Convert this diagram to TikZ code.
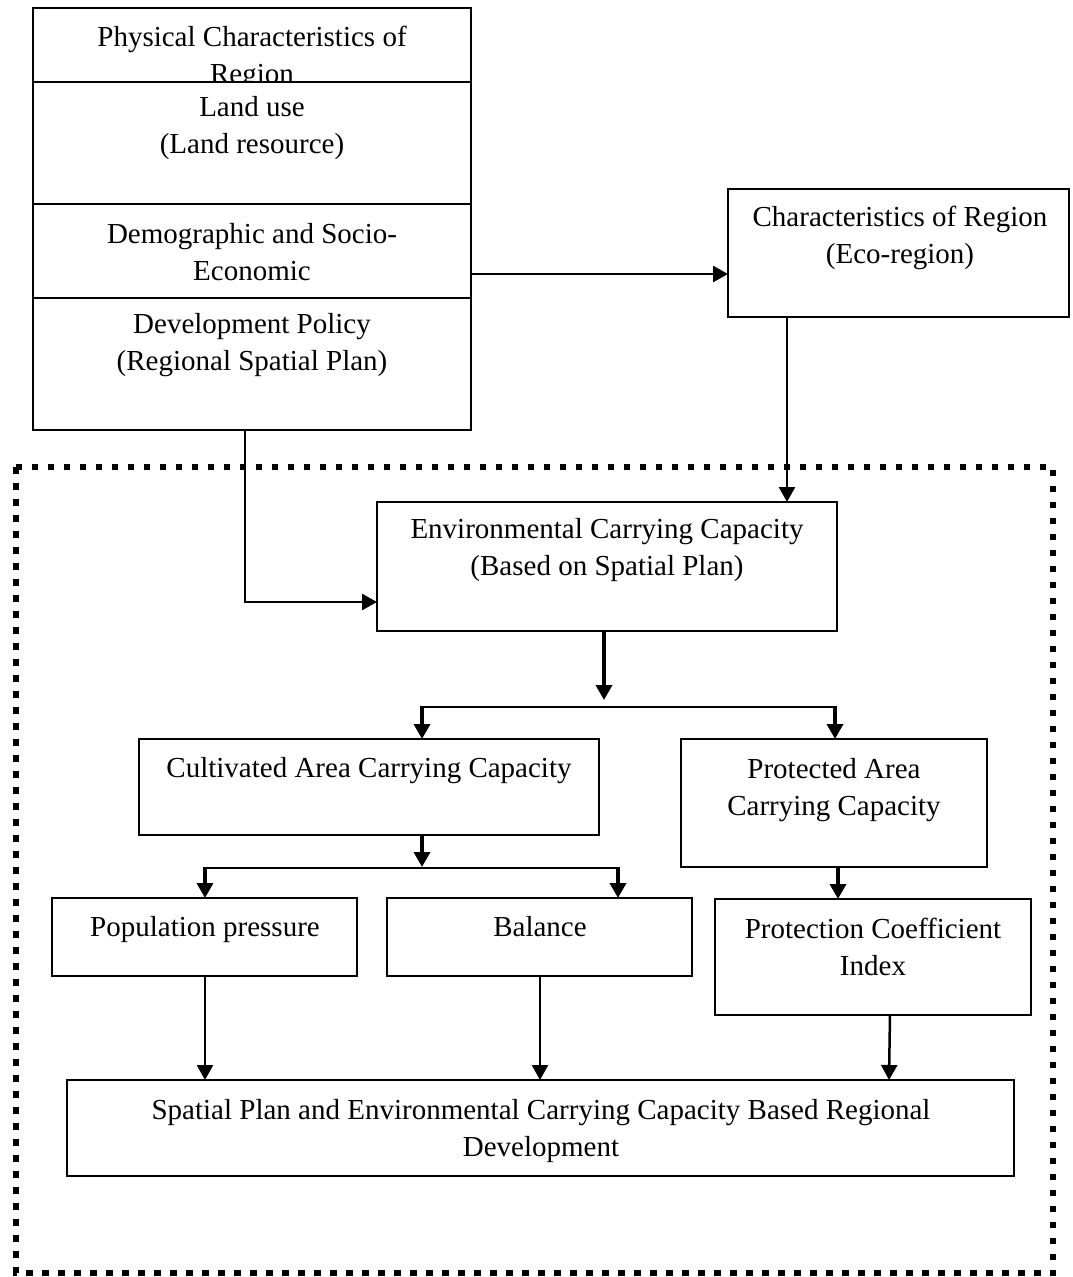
\documentclass[tikz,border=0pt]{standalone}
\usepackage{fontspec}
\setmainfont{Liberation Serif}
\usetikzlibrary{arrows.meta,calc}
\begin{document}
\begin{tikzpicture}[x=1pt,y=-1pt,
  box/.style={draw,line width=2pt,fill=white,anchor=north west,inner sep=0pt,outer sep=0pt},
  lbl/.style={anchor=base,align=center,inner sep=0pt,font=\fontsize{29}{37}\selectfont},
  arr/.style={line width=2.5pt,-{Triangle[length=15pt,width=16pt]}},
  arrthick/.style={line width=3.5pt,-{Triangle[length=15pt,width=16pt]}},
  bus/.style={line width=1.8pt},
  frame/.style={line width=6.5pt,dash pattern=on 6.5pt off 9.5pt}]
\useasboundingbox (0,0) rectangle (1072,1277);

% dotted frame
\draw[frame] (16,467) rectangle (1053,1273);

% top-left stack (anchor=base of a two-line label = baseline of its last line)
\node[box,minimum width=438pt,minimum height=74pt] (phys) at (33,8) {};
\node[lbl] (physT) at (252,83) {Physical Characteristics of\\Region};
\node[box,minimum width=438pt,minimum height=122pt] (land) at (33,82) {};
\node[lbl] (landT) at (252,153) {Land use\\(Land resource)};
\node[box,minimum width=438pt,minimum height=94pt] (demo) at (33,204) {};
\node[lbl] (demoT) at (252,280) {Demographic and Socio-\\Economic};
\node[box,minimum width=438pt,minimum height=132pt] (dev) at (33,298) {};
\node[lbl] (devT) at (252,370) {Development Policy\\(Regional Spatial Plan)};

% characteristics of region
\node[box,minimum width=341pt,minimum height=128pt] (chr) at (728,189) {};
\node[lbl] (chrT) at (900,263) {Characteristics of Region\\(Eco-region)};

% environmental carrying capacity
\node[box,minimum width=460pt,minimum height=129pt] (ecc) at (377,502) {};
\node[lbl] (eccT) at (607,575) {Environmental Carrying Capacity\\(Based on Spatial Plan)};

% second level
\node[box,minimum width=460pt,minimum height=96pt] (cult) at (139,739) {};
\node[lbl] (cultT) at (369,777) {Cultivated Area Carrying Capacity};
\node[box,minimum width=306pt,minimum height=128pt] (prot) at (681,739) {};
\node[lbl] (protT) at (834,815) {Protected Area\\Carrying Capacity};

% third level
\node[box,minimum width=305pt,minimum height=78pt] (pop) at (52,898) {};
\node[lbl] (popT) at (205,936) {Population pressure};
\node[box,minimum width=305pt,minimum height=78pt] (bal) at (387,898) {};
\node[lbl] (balT) at (540,936) {Balance};
\node[box,minimum width=316pt,minimum height=116pt] (coef) at (715,899) {};
\node[lbl] (coefT) at (873,975) {Protection Coefficient\\Index};

% bottom
\node[box,minimum width=947pt,minimum height=96pt] (spat) at (67,1080) {};
\node[lbl] (spatT) at (541,1156) {Spatial Plan and Environmental Carrying Capacity Based Regional\\Development};

% helper coordinates
\coordinate (y274) at (0,274);
\coordinate (c1) at (245,602);
\coordinate (c2) at (787,0);
\coordinate (b1) at (604,700);
\coordinate (b1l) at (422,707);
\coordinate (b1r) at (835,707);
\coordinate (b1a) at (420,707);
\coordinate (b1b) at (837,707);
\coordinate (b2) at (422,867);
\coordinate (b2l) at (205,868);
\coordinate (b2r) at (618,868);
\coordinate (b2a) at (203,868);
\coordinate (b2b) at (620,868);
\coordinate (x838) at (838,0);
\coordinate (x205) at (205,0);
\coordinate (x540) at (540,0);
\coordinate (x890) at (890,0);
\coordinate (x889) at (889,0);

% connectors
\draw[arr] (demo.east |- y274) -- (chr.west |- y274);
\draw[arr] (dev.south -| c1) |- (ecc.west |- c1);
\draw[arr] (chr.south -| c2) -- (ecc.north -| c2);
\draw[arrthick] (ecc.south -| b1) -- (b1);
\draw[bus] (b1a) -- (b1b);
\draw[arrthick] (b1l) -- (cult.north -| b1l);
\draw[arrthick] (b1r) -- (prot.north -| b1r);
\draw[arrthick] (cult.south -| b2) -- (b2);
\draw[bus] (b2a) -- (b2b);
\draw[arrthick] (b2l) -- (pop.north -| b2l);
\draw[arrthick] (b2r) -- (bal.north -| b2r);
\draw[arrthick] (prot.south -| x838) -- (coef.north -| x838);
\draw[arr] (pop.south -| x205) -- (spat.north -| x205);
\draw[arr] (bal.south -| x540) -- (spat.north -| x540);
\draw[arr] (coef.south -| x890) -- (spat.north -| x889);
\end{tikzpicture}
\end{document}
